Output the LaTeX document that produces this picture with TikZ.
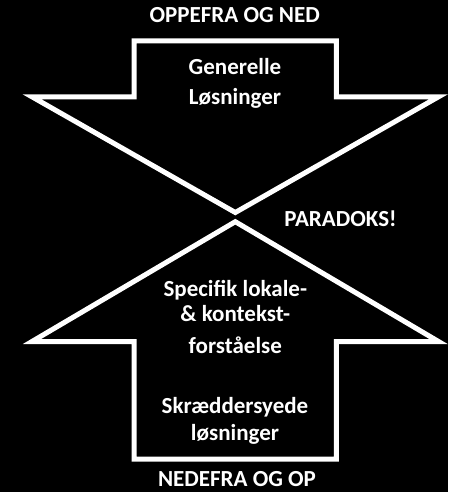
\documentclass[tikz,border=0pt]{standalone}
\usepackage{fontspec}
\setmainfont{Carlito}
\tikzset{
  outline/.style={draw=white, line width=5pt, line join=miter},
  label/.style={text=white, font=\bfseries\fontsize{23}{26.7}\selectfont, align=center, anchor=base, inner sep=0pt}
}
\begin{document}
\begin{tikzpicture}[x=1pt, y=-1pt]
            \fill[black] (0,0) rectangle (448,492);
            \useasboundingbox (0,0) rectangle (448,492);
            \draw[outline] (134.2,40.8) -- (336.3,40.8) -- (336.3,96.8) -- (438.5,96.8) -- (235.3,212.5) -- (32,96.8) -- (134.2,96.8) -- cycle;
            \draw[outline] (235.3,221.7) -- (438.5,341.5) -- (336.3,341.5) -- (336.3,459.2) -- (134.2,459.2) -- (134.2,341.5) -- (32,341.5) -- cycle;
            \node[label] (top) at (234.7,22.7) {OPPEFRA OG NED};
            \node[label] (general) at (235,104.3) {Generelle\\[2.6pt]Løsninger};
            \node[label] (paradox) at (340.5,226) {PARADOKS!};
            \node[label] (specific) at (235.3,353.3) {Specifik lokale-\\[-1.7pt]\& kontekst-\\[5.6pt]forståelse};
            \node[label] (tailored) at (235,440) {Skræddersyede\\løsninger};
            \node[label, text depth=0pt] (bottom) at (237,486) {NEDEFRA OG OP};
        \end{tikzpicture}
\end{document}
